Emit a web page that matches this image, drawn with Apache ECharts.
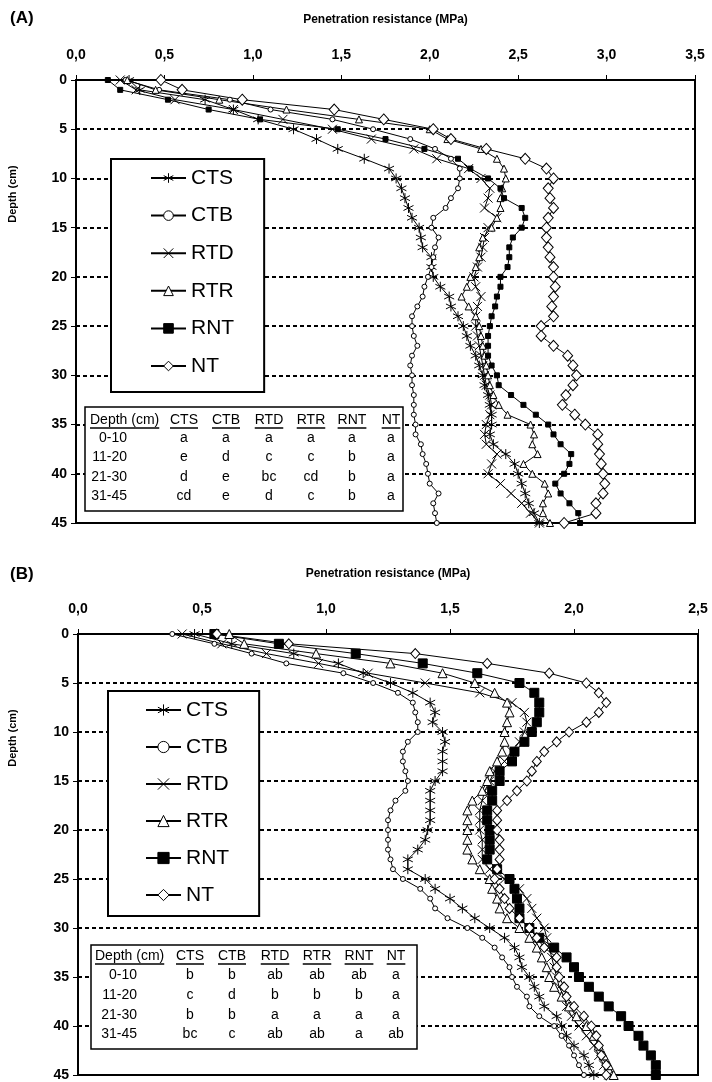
<!DOCTYPE html>
<html>
<head>
<meta charset="utf-8">
<script src="https://cdn.jsdelivr.net/npm/echarts@6/dist/echarts.min.js"></script>
<style>
  html, body { margin: 0; padding: 0; background: #fff; }
  #chart { width: 712px; height: 1082px; }
</style>
</head>
<body>
<div id="chart"></div>
<script>
// depth of each reading (cm)
const depth = [0, 1, 2, 3, 4, 5, 6, 7, 8, 9, 10, 11, 12, 13, 14, 15, 16, 17, 18, 19, 20, 21, 22,
  23, 24, 25, 26, 27, 28, 29, 30, 31, 32, 33, 34, 35, 36, 37, 38, 39, 40, 41, 42, 43, 44, 45]
const names = ['CTS', 'CTB', 'RTD', 'RTR', 'RNT', 'NT']

// panel A, penetration resistance (MPa)
const ctsA = [0.30, 0.36, 0.73, 0.89, 1.03, 1.23, 1.36, 1.48, 1.63, 1.77, 1.81, 1.84, 1.86, 1.88, 1.90, 1.94,
  1.95, 1.96, 2.01, 2.01, 2.02, 2.06, 2.11, 2.12, 2.16, 2.19, 2.21, 2.23, 2.26, 2.28, 2.30, 2.31, 2.33, 2.34,
  2.35, 2.35, 2.34, 2.36, 2.43, 2.48, 2.50, 2.52, 2.54, 2.56, 2.59, 2.62]
const ctbA = [0.28, 0.47, 0.87, 1.10, 1.45, 1.68, 1.89, 2.03, 2.12, 2.17, 2.17, 2.16, 2.12, 2.09, 2.02, 2.01,
  2.05, 2.03, 2.02, 2.01, 1.99, 1.97, 1.96, 1.93, 1.90, 1.90, 1.91, 1.93, 1.90, 1.89, 1.90, 1.90, 1.91, 1.91,
  1.91, 1.92, 1.92, 1.95, 1.96, 1.98, 1.99, 2.00, 2.05, 2.02, 2.03, 2.04]
const rtdA = [0.25, 0.34, 0.56, 0.89, 1.17, 1.45, 1.67, 1.91, 2.04, 2.22, 2.29, 2.34, 2.33, 2.31, 2.38, 2.33,
  2.31, 2.30, 2.29, 2.27, 2.25, 2.26, 2.29, 2.27, 2.26, 2.26, 2.27, 2.28, 2.29, 2.30, 2.31, 2.32, 2.34, 2.35,
  2.34, 2.32, 2.31, 2.32, 2.38, 2.35, 2.33, 2.40, 2.46, 2.52, 2.57, 2.62]
const rtrA = [0.29, 0.45, 0.81, 1.19, 1.60, 2.00, 2.10, 2.29, 2.38, 2.42, 2.43, 2.41, 2.40, 2.40, 2.38, 2.35,
  2.30, 2.28, 2.28, 2.26, 2.23, 2.21, 2.18, 2.22, 2.26, 2.28, 2.29, 2.30, 2.31, 2.32, 2.33, 2.34, 2.36, 2.39,
  2.44, 2.57, 2.59, 2.58, 2.61, 2.53, 2.58, 2.65, 2.67, 2.64, 2.64, 2.68]
const rntA = [0.18, 0.25, 0.52, 0.75, 1.04, 1.48, 1.75, 1.97, 2.16, 2.23, 2.33, 2.40, 2.42, 2.52, 2.54, 2.52,
  2.47, 2.45, 2.45, 2.44, 2.40, 2.40, 2.38, 2.37, 2.35, 2.34, 2.33, 2.33, 2.33, 2.35, 2.38, 2.39, 2.46, 2.53,
  2.60, 2.67, 2.70, 2.74, 2.80, 2.79, 2.76, 2.71, 2.74, 2.79, 2.84, 2.85]
const ntA = [0.48, 0.60, 0.94, 1.46, 1.74, 2.02, 2.12, 2.32, 2.54, 2.66, 2.70, 2.67, 2.68, 2.70, 2.67, 2.66,
  2.66, 2.67, 2.68, 2.70, 2.70, 2.71, 2.70, 2.69, 2.70, 2.63, 2.63, 2.70, 2.78, 2.81, 2.83, 2.81, 2.77, 2.75,
  2.82, 2.88, 2.95, 2.95, 2.96, 2.97, 2.98, 2.99, 2.98, 2.94, 2.94, 2.76]

// panel B
const ctsB = [0.47, 0.62, 0.87, 1.05, 1.15, 1.26, 1.35, 1.42, 1.44, 1.43, 1.47, 1.48, 1.47, 1.47, 1.47, 1.44,
  1.42, 1.42, 1.42, 1.42, 1.41, 1.40, 1.37, 1.33, 1.33, 1.40, 1.44, 1.50, 1.55, 1.60, 1.66, 1.72, 1.76, 1.78,
  1.79, 1.82, 1.84, 1.86, 1.88, 1.93, 1.95, 1.97, 2.00, 2.04, 2.06, 2.08]
const ctbB = [0.38, 0.55, 0.70, 0.84, 1.07, 1.19, 1.29, 1.35, 1.36, 1.37, 1.37, 1.33, 1.31, 1.31, 1.32, 1.33,
  1.32, 1.28, 1.26, 1.25, 1.25, 1.25, 1.25, 1.26, 1.27, 1.31, 1.38, 1.42, 1.44, 1.49, 1.57, 1.63, 1.68, 1.71,
  1.74, 1.75, 1.77, 1.81, 1.82, 1.86, 1.92, 1.95, 1.98, 2.00, 2.02, 2.04]
const rtdB = [0.42, 0.58, 0.76, 0.97, 1.17, 1.40, 1.62, 1.75, 1.80, 1.81, 1.80, 1.78, 1.75, 1.72, 1.68, 1.66,
  1.64, 1.63, 1.62, 1.62, 1.62, 1.63, 1.63, 1.63, 1.66, 1.72, 1.78, 1.81, 1.83, 1.85, 1.88, 1.89, 1.90, 1.91,
  1.92, 1.93, 1.94, 1.96, 1.97, 1.99, 2.02, 2.05, 2.08, 2.10, 2.12, 2.14]
const rtrB = [0.61, 0.67, 0.96, 1.26, 1.47, 1.60, 1.68, 1.73, 1.74, 1.73, 1.72, 1.72, 1.71, 1.69, 1.66, 1.65,
  1.63, 1.59, 1.57, 1.57, 1.57, 1.57, 1.57, 1.59, 1.62, 1.66, 1.67, 1.69, 1.70, 1.73, 1.78, 1.82, 1.85, 1.87,
  1.89, 1.90, 1.92, 1.95, 1.98, 2.01, 2.05, 2.08, 2.10, 2.12, 2.14, 2.16]
const rntB = [0.55, 0.81, 1.12, 1.39, 1.61, 1.78, 1.84, 1.86, 1.86, 1.85, 1.83, 1.80, 1.76, 1.75, 1.70, 1.70,
  1.67, 1.67, 1.65, 1.65, 1.66, 1.66, 1.66, 1.65, 1.69, 1.74, 1.76, 1.77, 1.78, 1.78, 1.82, 1.86, 1.92, 1.97,
  2.00, 2.02, 2.06, 2.10, 2.14, 2.19, 2.22, 2.26, 2.28, 2.31, 2.33, 2.33]
const ntB = [0.56, 0.85, 1.36, 1.65, 1.90, 2.05, 2.10, 2.13, 2.10, 2.05, 1.98, 1.93, 1.88, 1.85, 1.83, 1.81,
  1.77, 1.73, 1.69, 1.69, 1.69, 1.70, 1.70, 1.70, 1.69, 1.68, 1.70, 1.72, 1.74, 1.78, 1.82, 1.85, 1.88, 1.93,
  1.93, 1.94, 1.96, 1.97, 2.00, 2.04, 2.07, 2.09, 2.10, 2.11, 2.13, 2.13]

// significance letters
const tableHead = ['Depth (cm)', 'CTS', 'CTB', 'RTD', 'RTR', 'RNT', 'NT']
const tableA = [
  ['0-10', 'a', 'a', 'a', 'a', 'a', 'a'],
  ['11-20', 'e', 'd', 'c', 'c', 'b', 'a'],
  ['21-30', 'd', 'e', 'bc', 'cd', 'b', 'a'],
  ['31-45', 'cd', 'e', 'd', 'c', 'b', 'a']
]
const tableB = [
  ['0-10', 'b', 'b', 'ab', 'ab', 'ab', 'a'],
  ['11-20', 'c', 'd', 'b', 'b', 'b', 'a'],
  ['21-30', 'b', 'b', 'a', 'a', 'a', 'a'],
  ['31-45', 'bc', 'c', 'ab', 'ab', 'a', 'ab']
]

const FONT = '"Liberation Sans", Arial, sans-serif'
const ASTER = 'path://M5,0L5,10M0.7,2.5L9.3,7.5M0.7,7.5L9.3,2.5'
const CROSS = 'path://M0,0L10,10M10,0L0,10'
const symbols = [ASTER, 'circle', CROSS, 'triangle', 'rect', 'diamond']
const fills = ['#fff', '#fff', '#fff', '#fff', '#000', '#fff']
const sizeA = [[10, 10], [5, 5], [9, 9], [7, 7], [5, 5], [10, 11]]
const sizeB = [[10, 10], [5, 5], [9, 9], [9, 9], [9, 9], [9, 10]]

function makeSeries (vals, i, g, sizes) {
  return {
    name: names[i],
    type: 'line',
    xAxisIndex: g,
    yAxisIndex: g,
    data: depth.map((d, k) => [vals[k], d]),
    symbol: symbols[i],
    symbolSize: sizes[i],
    showAllSymbol: true,
    lineStyle: { color: '#000', width: 1 },
    itemStyle: { color: fills[i], borderColor: '#000', borderWidth: 1 },
    emphasis: { disabled: true },
    animation: false
  }
}

function xAxis (g, max) {
  return {
    type: 'value',
    gridIndex: g,
    position: 'top',
    min: 0,
    max: max,
    interval: 0.5,
    name: 'Penetration resistance (MPa)',
    nameLocation: 'middle',
    nameGap: 54,
    nameTextStyle: { fontFamily: FONT, fontWeight: 'bold', fontSize: 12, color: '#000' },
    axisLine: { onZero: false, lineStyle: { color: '#000', width: 2 } },
    axisTick: { show: true, length: 5, lineStyle: { color: '#000', width: 1 } },
    axisLabel: {
      formatter: v => v.toFixed(1).replace('.', ','),
      fontFamily: FONT, fontWeight: 'bold', fontSize: 14, color: '#000', margin: 18
    },
    splitLine: { show: false }
  }
}

function yAxis (g) {
  return {
    type: 'value',
    gridIndex: g,
    inverse: true,
    min: 0,
    max: 45,
    interval: 5,
    axisLine: { onZero: false, lineStyle: { color: '#000', width: 2 } },
    axisTick: { show: true, length: 5, lineStyle: { color: '#000', width: 1 } },
    axisLabel: { fontFamily: FONT, fontWeight: 'bold', fontSize: 14, color: '#000', margin: 9 },
    splitLine: { show: true, lineStyle: { color: '#000', width: 2, type: [4, 3] } }
  }
}

function legend (left, top, pad, gap, itemH) {
  return {
    orient: 'vertical',
    left: left,
    top: top,
    data: names,
    selectedMode: false,
    backgroundColor: '#fff',
    borderColor: '#000',
    borderWidth: 2,
    padding: pad,
    itemWidth: 35,
    itemHeight: itemH,
    itemGap: gap,
    itemStyle: { borderWidth: 1 },
    textStyle: { fontFamily: FONT, fontSize: 21, color: '#000', lineHeight: 24 }
  }
}

const measure = document.createElement('canvas').getContext('2d')
measure.font = '14px "Liberation Sans", Arial'

function table (x, y, w, h, colX, headY, rowY, labelRight, rows) {
  const els = [{
    type: 'rect', z: 10,
    shape: { x: x, y: y, width: w, height: h },
    style: { fill: '#fff', stroke: '#000', lineWidth: 1.5 }
  }]
  tableHead.forEach((t, c) => {
    const tw = measure.measureText(t).width
    const left = c === 0 ? colX[0] : colX[c] - tw / 2
    els.push({
      type: 'text', z: 11, x: left, y: headY,
      style: { text: t, fontFamily: FONT, fontSize: 14, fill: '#000', align: 'left', verticalAlign: 'middle' }
    })
    els.push({
      type: 'line', z: 11,
      shape: { x1: left, y1: headY + 8, x2: left + tw, y2: headY + 8 },
      style: { stroke: '#000', lineWidth: 1.5 }
    })
  })
  rows.forEach((r, k) => {
    r.forEach((t, c) => {
      els.push({
        type: 'text', z: 11, x: c === 0 ? labelRight : colX[c], y: rowY[k],
        style: {
          text: t, fontFamily: FONT, fontSize: 14, fill: '#000',
          align: c === 0 ? 'right' : 'center', verticalAlign: 'middle'
        }
      })
    })
  })
  return els
}

function label (text, x, y, size, rot) {
  return {
    type: 'text', z: 11, x: x, y: y, rotation: rot || 0,
    style: {
      text: text, fontFamily: FONT, fontWeight: 'bold', fontSize: size, fill: '#000',
      align: rot ? 'center' : 'left', verticalAlign: 'middle'
    }
  }
}

const chart = echarts.init(document.getElementById('chart'))
chart.setOption({
  animation: false,
  backgroundColor: '#fff',
  grid: [
    { left: 76, top: 80, width: 619, height: 443, show: true, borderColor: '#000', borderWidth: 2 },
    { left: 78, top: 634, width: 620, height: 442, show: true, borderColor: '#000', borderWidth: 2 }
  ],
  xAxis: [xAxis(0, 3.5), xAxis(1, 2.5)],
  yAxis: [yAxis(0), yAxis(1)],
  legend: [
    legend(111, 159, [7, 30, 14, 39], 13.6, 12),
    legend(108, 691, [7, 30, 9, 37], 13, 14)
  ],
  series: [
    makeSeries(ctsA, 0, 0, sizeA), makeSeries(ctbA, 1, 0, sizeA), makeSeries(rtdA, 2, 0, sizeA),
    makeSeries(rtrA, 3, 0, sizeA), makeSeries(rntA, 4, 0, sizeA), makeSeries(ntA, 5, 0, sizeA),
    makeSeries(ctsB, 0, 1, sizeB), makeSeries(ctbB, 1, 1, sizeB), makeSeries(rtdB, 2, 1, sizeB),
    makeSeries(rtrB, 3, 1, sizeB), makeSeries(rntB, 4, 1, sizeB), makeSeries(ntB, 5, 1, sizeB)
  ],
  graphic: [
    label('(A)', 10, 18, 17),
    label('(B)', 10, 574, 17),
    label('Depth (cm)', 13, 194, 11, Math.PI / 2),
    label('Depth (cm)', 13, 738, 11, Math.PI / 2)
  ].concat(
    table(85, 407, 318, 104, [90, 184, 226, 269, 311, 352, 391], 420, [438, 457, 477, 496], 127, tableA),
    table(91, 945, 326, 104, [95, 190, 232, 275, 317, 359, 396], 956, [975, 995, 1015, 1034], 137, tableB)
  )
})
</script>
</body>
</html>
